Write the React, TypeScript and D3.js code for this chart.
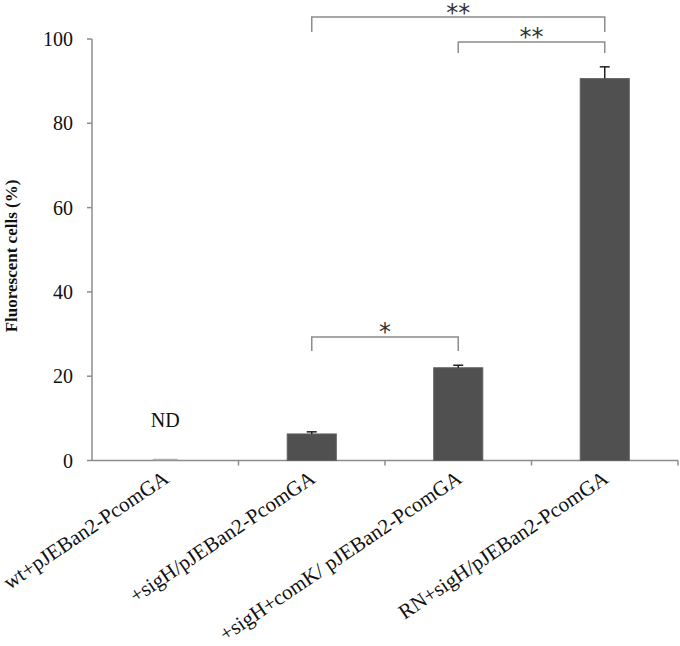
import React from "react";
import * as d3 from "d3";

const categories = [
  "wt+pJEBan2-PcomGA",
  "+sigH/pJEBan2-PcomGA",
  "+sigH+comK/ pJEBan2-PcomGA",
  "RN+sigH/pJEBan2-PcomGA",
];
const values = [0, 6.3, 22.0, 90.6];
const errors = [0, 0.5, 0.6, 2.8];
const yTicks = [0, 20, 40, 60, 80, 100];
const brackets = [
  { from: 1, to: 3, label: "**", level: 0 },
  { from: 2, to: 3, label: "**", level: 1 },
  { from: 1, to: 2, label: "*", level: 2 },
];

const W = 680;
const H = 646;
const x0 = 92;
const x1 = 678;
const yBottom = 460.5;
const yTop = 39;
const font = "'Liberation Serif', 'Times New Roman', serif";

export default function App() {
  const x = d3.scaleBand<string>().domain(categories).range([x0, x1]).padding(0);
  const y = d3.scaleLinear().domain([0, 100]).range([yBottom, yTop]);
  const bw = x.bandwidth() * 0.335;
  const cx = (i: number) => (x(categories[i]) as number) + x.bandwidth() / 2;
  const bracketY = [17, 42, 337];
  const bracketDrop = [15, 11, 14];
  const starCenterY = [7, 31, 326];
  const axisColor = "#8c8c8c";

  return (
    <svg width={W} height={H} style={{ position: "absolute", left: 0, top: 0, background: "#fff" }}>
      <rect width={W} height={H} fill="#fff" />
      {/* y axis */}
      <line x1={x0} x2={x0} y1={y(100)} y2={yBottom} stroke={axisColor} strokeWidth={1.5} />
      {yTicks.map((t) => (
        <g key={t}>
          <line x1={x0 - 5} x2={x0} y1={y(t)} y2={y(t)} stroke={axisColor} strokeWidth={1.5} />
          <text x={73} y={y(t)} dy="0.35em" textAnchor="end" fontFamily={font} fontSize={20} fill="#111">
            {t}
          </text>
        </g>
      ))}
      {/* x axis */}
      <line x1={x0} x2={x1} y1={yBottom} y2={yBottom} stroke={axisColor} strokeWidth={1.5} />
      {categories.map((c) => (
        <line key={c} x1={(x(c) as number) + x.bandwidth()} x2={(x(c) as number) + x.bandwidth()} y1={yBottom} y2={yBottom + 5} stroke={axisColor} strokeWidth={1.5} />
      ))}
      {/* bars */}
      {categories.map((c, i) => (
        <g key={c}>
          {values[i] > 0 ? (
            <rect x={cx(i) - bw / 2} y={y(values[i])} width={bw} height={yBottom - y(values[i])} fill="#505050" stroke="#606060" strokeWidth={1} />
          ) : (
            <line x1={cx(i) - bw / 2 + 12} x2={cx(i) + bw / 2 - 12} y1={yBottom - 1} y2={yBottom - 1} stroke="#b0b0b0" strokeWidth={1.5} />
          )}
          {errors[i] > 0 && (
            <g stroke="#222" strokeWidth={1.5}>
              <line x1={cx(i)} x2={cx(i)} y1={y(values[i])} y2={y(values[i] + errors[i])} />
              <line x1={cx(i) - 5} x2={cx(i) + 5} y1={y(values[i] + errors[i])} y2={y(values[i] + errors[i])} />
            </g>
          )}
        </g>
      ))}
      <text x={cx(0)} y={420} dy="0.35em" textAnchor="middle" fontFamily={font} fontSize={20} fill="#111">
        ND
      </text>
      {/* brackets */}
      {brackets.map((b, k) => {
        const by = bracketY[b.level];
        const xa = cx(b.from);
        const xb = cx(b.to);
        return (
          <g key={k}>
            <path d={`M${xa},${by + bracketDrop[b.level]}V${by}H${xb}V${by + bracketDrop[b.level]}`} fill="none" stroke={axisColor} strokeWidth={1.5} />
            <text x={(xa + xb) / 2} y={starCenterY[b.level] + 14} textAnchor="middle" fontFamily="'DejaVu Sans', sans-serif" fontSize={24} fill="#333">
              {b.label}
            </text>
          </g>
        );
      })}
      {/* y label */}
      <text transform={`translate(11,256) rotate(-90)`} textAnchor="middle" dy="0.35em" fontFamily={font} fontWeight="bold" fontSize={17} fill="#111">
        Fluorescent cells (%)
      </text>
      {/* x labels */}
      {categories.map((c, i) => (
        <text key={c} transform={`translate(${cx(i) + 5},${yBottom + 21}) rotate(-34)`} textAnchor="end" fontFamily={font} fontSize={21} fill="#111">
          {c}
        </text>
      ))}
    </svg>
  );
}
